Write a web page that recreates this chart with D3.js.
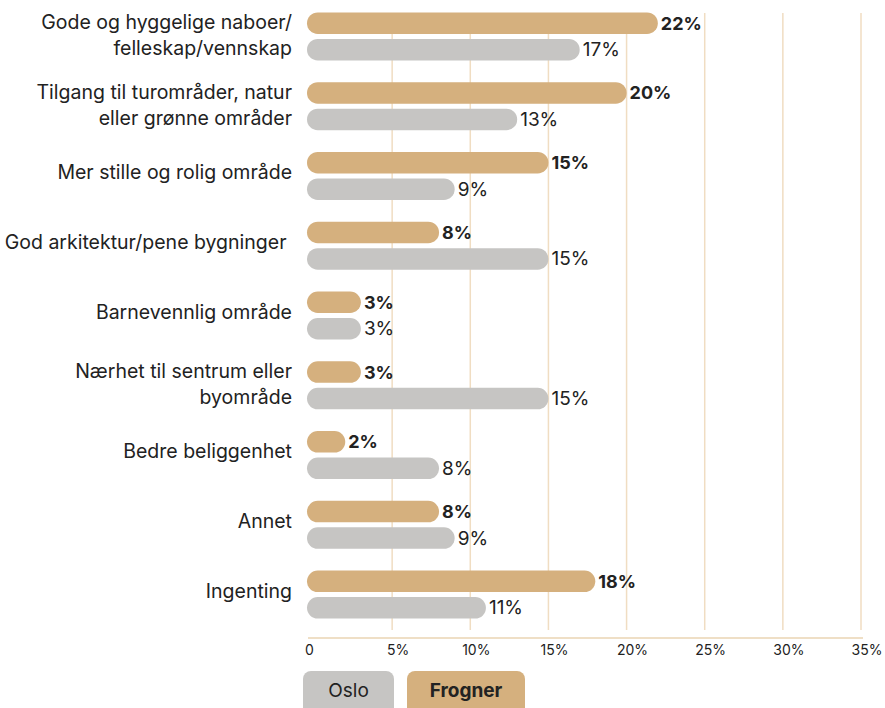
<!DOCTYPE html>
<html>
<head>
<meta charset="utf-8">
<script src="https://cdn.jsdelivr.net/npm/d3@7"></script>
<style>
  body { margin: 0; background: #fff; }
  svg { display: block; font-family: Inter, "Liberation Sans", sans-serif; }
</style>
</head>
<body>
<div id="chart"></div>
<script>
var categories = [
  ['Gode og hyggelige naboer/', 'felleskap/vennskap'],
  ['Tilgang til turområder, natur', 'eller grønne områder'],
  ['Mer stille og rolig område'],
  ['God arkitektur/pene bygninger\u00a0'],
  ['Barnevennlig område'],
  ['Nærhet til sentrum eller', 'byområde'],
  ['Bedre beliggenhet'],
  ['Annet'],
  ['Ingenting']
];
var frogner = [22, 20, 15, 8, 3, 3, 2, 8, 18];
var oslo = [17, 13, 9, 15, 3, 15, 8, 9, 11];
var ticks = [0, 5, 10, 15, 20, 25, 30, 35];
var legendItems = ['Oslo', 'Frogner'];

var width = 885, height = 708,
  gold = '#d5b07e', grey = '#c6c5c3', ink = '#222',
  barH = 21.5;

var svg = d3.select('#chart').append('svg')
  .attr('width', width)
  .attr('height', height);

var x = d3.scaleLinear().domain([0, 35]).range([314, 861]);
var y = d3.scaleBand().domain(d3.range(categories.length)).range([1.5, 629.5]);

// grid
svg.append('g').selectAll('line')
  .data(ticks.slice(1)).enter().append('line')
  .attr('x1', function(d) { return x(d); })
  .attr('x2', function(d) { return x(d); })
  .attr('y1', 13)
  .attr('y2', 630)
  .attr('stroke', '#f0ddc2')
  .attr('stroke-width', 1.5);

svg.append('line')
  .attr('x1', x(0) - 6).attr('x2', x(35) + 2)
  .attr('y1', 638).attr('y2', 638)
  .attr('stroke', '#ead4b3')
  .attr('stroke-width', 1.5);

svg.append('g').selectAll('text')
  .data(ticks).enter().append('text')
  .attr('x', function(d) { return d === 0 ? x(d) - 9 : x(d) + 6; })
  .attr('y', 655)
  .attr('text-anchor', function(d) { return d === 0 ? 'start' : 'middle'; })
  .attr('font-size', 14)
  .attr('fill', ink)
  .text(function(d) { return d === 0 ? '0' : d + '%'; });

// groups
var group = svg.append('g').selectAll('g')
  .data(categories).enter().append('g')
  .attr('transform', function(d, i) {
    return 'translate(0,' + (y(i) + y.bandwidth() / 2) + ')';
  });

group.append('text')
  .attr('text-anchor', 'end')
  .attr('font-size', 19.5)
  .attr('fill', ink)
  .style('white-space', 'pre')
  .each(function(d) {
    var t = d3.select(this);
    var y0 = d.length === 1 ? 3 : -7;
    d.forEach(function(line, k) {
      t.append('tspan').attr('x', 292).attr('y', y0 + k * 26).text(line);
    });
  });

function bars(values, dy, color, weight, size) {
  group.append('rect')
    .attr('x', x(0) - 7)
    .attr('y', dy - barH / 2)
    .attr('width', function(d, i) { return x(values[i]) - x(0) + 7; })
    .attr('height', barH)
    .attr('rx', barH / 2)
    .attr('fill', color);

  group.append('text')
    .attr('x', function(d, i) { return x(values[i]) + 3; })
    .attr('y', dy + 6.5)
    .attr('font-size', size)
    .attr('font-weight', weight)
    .attr('fill', ink)
    .text(function(d, i) { return values[i] + '%'; });
}

bars(frogner, -13.25, gold, 700, 18);
bars(oslo, 13.25, grey, 400, 19);

// legend
var legend = svg.append('g').selectAll('g')
  .data(legendItems).enter().append('g')
  .attr('transform', function(d, i) { return 'translate(' + [303, 407][i] + ',671)'; });

legend.append('rect')
  .attr('width', function(d, i) { return [91, 118][i]; })
  .attr('height', 44)
  .attr('rx', 8)
  .attr('fill', function(d, i) { return i ? gold : grey; });

legend.append('text')
  .attr('x', function(d, i) { return [91, 118][i] / 2; })
  .attr('y', 26)
  .attr('text-anchor', 'middle')
  .attr('font-size', 19)
  .attr('font-weight', function(d, i) { return i ? 700 : 400; })
  .attr('fill', ink)
  .text(function(d) { return d; });
</script>
</body>
</html>
